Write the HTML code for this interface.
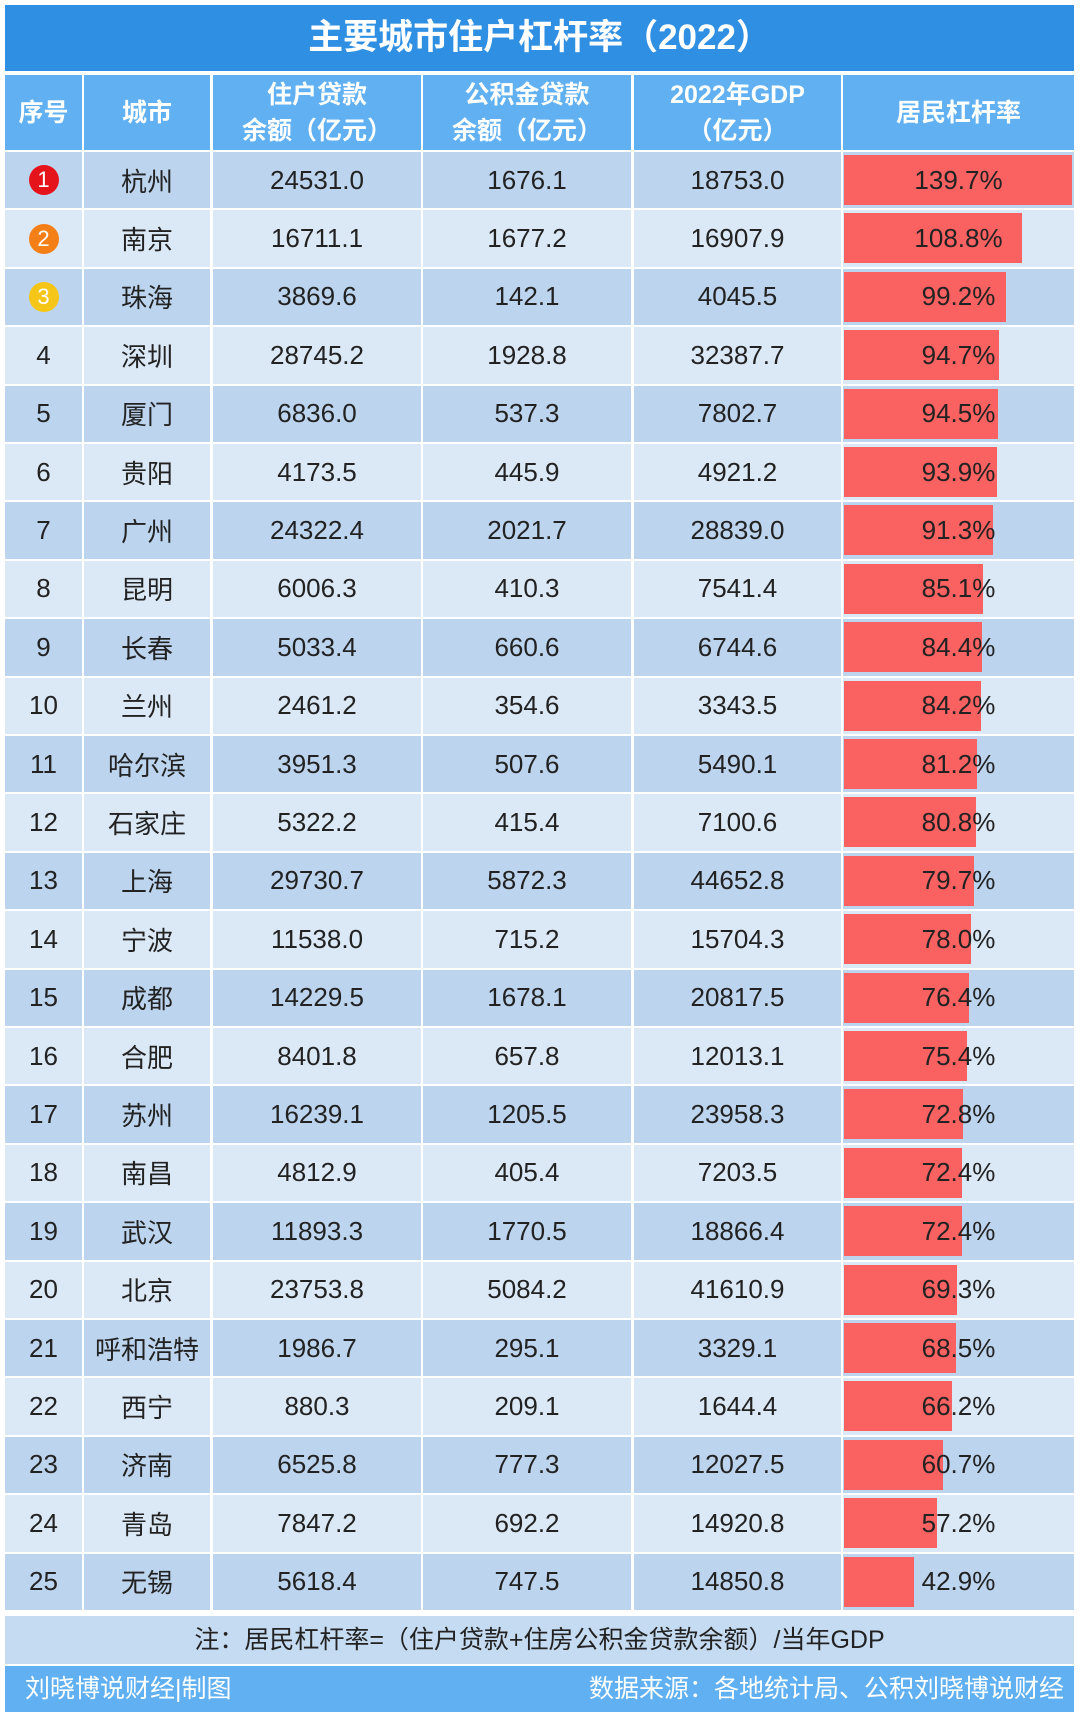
<!DOCTYPE html>
<html><head><meta charset="utf-8"><style>
body{margin:0;width:1080px;height:1715px;background:#fff;font-family:"Liberation Sans","Noto Sans CJK SC",sans-serif;position:relative;overflow:hidden}
.abs{position:absolute}
.title{left:5px;top:5px;width:1069px;height:66px;background:#2e8fe3;color:#fff;font-size:35px;font-weight:bold;text-align:center;line-height:66px}
.hd{top:75px;height:75px;background:#60b0f2;color:#fff;font-size:25px;font-weight:bold;display:flex;align-items:center;justify-content:center;text-align:center;line-height:36px}
.c{height:56.4px;display:flex;align-items:center;justify-content:center;font-size:26px;color:#222}
.note{left:5px;top:1616px;width:1069px;height:48px;background:#c5dbf1;text-align:center;font-size:25px;line-height:48px;color:#222}
.foot{left:5px;top:1666px;width:1069px;height:46px;background:#60b0f2;color:#fff;font-size:25px;line-height:46px}
.bar{background:#fa6161}
.badge{width:30px;height:30px;border-radius:50%;color:#fff;font-size:22px;display:flex;align-items:center;justify-content:center}
</style></head><body>
<div class="abs title">主要城市住户杠杆率（2022）</div>
<div class="abs hd" style="left:5px;width:77px">序号</div>
<div class="abs hd" style="left:84px;width:126px">城市</div>
<div class="abs hd" style="left:213px;width:208px">住户贷款<br>余额（亿元）</div>
<div class="abs hd" style="left:423px;width:208px">公积金贷款<br>余额（亿元）</div>
<div class="abs hd" style="left:634px;width:207px">2022年GDP<br>（亿元）</div>
<div class="abs hd" style="left:843px;width:231px">居民杠杆率</div>
<div id="rows"></div>
<div class="abs note">注：居民杠杆率=（住户贷款+住房公积金贷款余额）/当年GDP</div>
<div class="abs foot"><span style="margin-left:20px">刘晓博说财经|制图</span><span style="position:absolute;right:10px">数据来源：各地统计局、公积刘晓博说财经</span></div>
<script>
var d=[["杭州","24531.0","1676.1","18753.0",139.7],["南京","16711.1","1677.2","16907.9",108.8],["珠海","3869.6","142.1","4045.5",99.2],["深圳","28745.2","1928.8","32387.7",94.7],["厦门","6836.0","537.3","7802.7",94.5],["贵阳","4173.5","445.9","4921.2",93.9],["广州","24322.4","2021.7","28839.0",91.3],["昆明","6006.3","410.3","7541.4",85.1],["长春","5033.4","660.6","6744.6",84.4],["兰州","2461.2","354.6","3343.5",84.2],["哈尔滨","3951.3","507.6","5490.1",81.2],["石家庄","5322.2","415.4","7100.6",80.8],["上海","29730.7","5872.3","44652.8",79.7],["宁波","11538.0","715.2","15704.3",78.0],["成都","14229.5","1678.1","20817.5",76.4],["合肥","8401.8","657.8","12013.1",75.4],["苏州","16239.1","1205.5","23958.3",72.8],["南昌","4812.9","405.4","7203.5",72.4],["武汉","11893.3","1770.5","18866.4",72.4],["北京","23753.8","5084.2","41610.9",69.3],["呼和浩特","1986.7","295.1","3329.1",68.5],["西宁","880.3","209.1","1644.4",66.2],["济南","6525.8","777.3","12027.5",60.7],["青岛","7847.2","692.2","14920.8",57.2],["无锡","5618.4","747.5","14850.8",42.9]];
var cols=[[5,77],[84,126],[213,208],[423,208],[634,207],[843,231]];
var h="",bc=["#e5141b","#f57f17","#f5c518"];
d.forEach(function(r,i){
 var top=152+i*58.4,bg=i%2==0?"#bcd4ee":"#dbe8f6";
 var vals=[i<3?'<div class="badge" style="background:'+bc[i]+'">'+(i+1)+'</div>':(i+1),r[0],r[1],r[2],r[3],""];
 cols.forEach(function(c,j){
  h+='<div class="abs c" style="left:'+c[0]+'px;top:'+top+'px;width:'+c[1]+'px;background:'+bg+'">'+vals[j]+'</div>';
 });
 h+='<div class="abs bar" style="left:844px;top:'+(top+3)+'px;width:'+Math.min(229,r[4]*1.633)+'px;height:50px"></div>';
 h+='<div class="abs c" style="left:843px;top:'+top+'px;width:231px">'+r[4].toFixed(1)+'%</div>';
});
document.getElementById("rows").innerHTML=h;
</script>
</body></html>
